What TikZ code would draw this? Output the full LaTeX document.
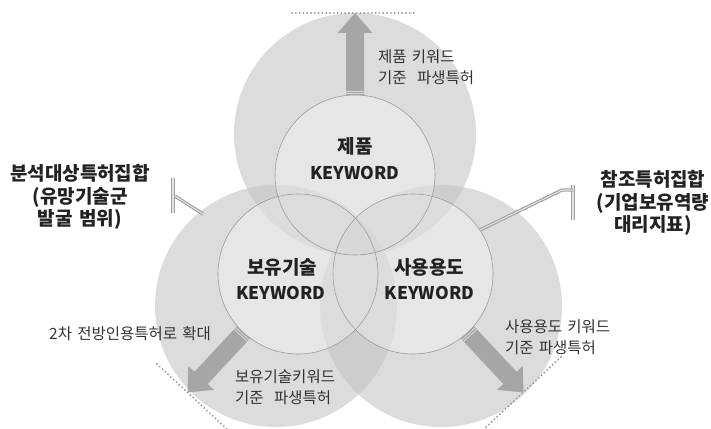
\documentclass[tikz,border=0pt]{standalone}
\usepackage{fontspec}
\setmainfont{Noto Sans CJK KR}[WordSpace=1.5]
\definecolor{bigfill}{gray}{0.77}
\definecolor{arrowc}{HTML}{A6A6A6}
\definecolor{stripec}{HTML}{D8D8D8}
\definecolor{txt}{HTML}{222222}
\definecolor{txtb}{HTML}{333333}
\definecolor{ringc}{HTML}{9C9C9C}
\definecolor{dotc}{HTML}{999999}
\begin{document}
\begin{tikzpicture}[x=1pt,y=-1pt,
  bigc/.style={fill=bigfill, fill opacity=0.6},
  ring/.style={circle, inner sep=0pt, minimum size=160pt, draw=ringc, line width=0.6pt},
  lbl/.style={inner sep=0pt, text=txt, font=\bfseries\fontsize{19}{22}\selectfont},
  kw/.style={inner sep=0pt, text=txt, font=\bfseries\fontsize{17.5}{21}\selectfont},
  cal/.style={inner sep=0pt, text=txt, align=center, font=\bfseries\fontsize{19}{22.5}\selectfont},
  small/.style={inner sep=0pt, text=txtb, align=left, anchor=west, font=\fontsize{15.5}{20.5}\selectfont},
  calline/.style={draw=gray!75, line width=1.1pt, double=gray!22, double distance=1.1pt},
  dotline/.style={draw=dotc, line width=2.1pt, line cap=round, dash pattern=on 0pt off 3.8pt},
  blockarrow/.pic={
    \fill[arrowc] (0,-9) -- (62,-9) -- (62,-17.5) -- (82,0) -- (62,17.5) -- (62,9) -- (0,9) -- cycle;
    \draw[stripec, line width=0.8pt] (1.7,-9) -- (1.7,9);
    \draw[stripec, line width=0.8pt] (3.9,-9) -- (3.9,9);
  }]
\useasboundingbox (0,0) rectangle (711,428);
% big circles
\fill[bigc] (355,134) circle[radius=121];
\fill[bigc] (276,306) circle[radius=121];
\fill[bigc] (441,306) circle[radius=121];
% small circles (light fill as one group)
\begin{scope}[transparency group, opacity=0.3]
  \fill[white] (355,175) circle[radius=80];
  \fill[white] (298,274) circle[radius=80];
  \fill[white] (413,274) circle[radius=80];
\end{scope}
\node[ring] (ST) at (355,175) {};
\node[ring] (SL) at (298,274) {};
\node[ring] (SR) at (413,274) {};
% dotted limit lines
\coordinate (d1a) at (292,13);  \coordinate (d1b) at (415,13);
\coordinate (d2a) at (157,364); \coordinate (d2b) at (230,432);
\coordinate (d3a) at (561,357); \coordinate (d3b) at (484,429);
\draw[dotline] (d1a) -- (d1b);
\draw[dotline] (d2a) -- (d2b);
\draw[dotline] (d3a) -- (d3b);
% block arrows
\pic[rotate=90] at (355,95) {blockarrow};
\pic[rotate=-133] at (243.4,332.5) {blockarrow};
\pic[rotate=-47] at (467.6,332.5) {blockarrow};
% main labels
\node[lbl] (t1) at (355,146) {제품};
\node[kw]  (t2) at (355,173) {KEYWORD};
\node[lbl] (l1) at (282,267) {보유기술};
\node[kw]  (l2) at (281,293) {KEYWORD};
\node[lbl] (r1) at (429,267) {사용용도};
\node[kw]  (r2) at (429.5,293) {KEYWORD};
% small labels
\node[small] (s1) at (378,67) {제품 키워드\\기준\ \ 파생특허};
\node[small] (s2) at (235,387) {보유기술키워드\\기준\ \ 파생특허};
\node[small] (s3) at (505,337) {사용용도 키워드\\기준 파생특허};
\node[small] (s4) at (49,334) {2차 전방인용특허로 확대};
% callouts
\node[cal] (cl) at (80,197) {분석대상특허집합\\(유망기술군\\발굴 범위)};
\node[cal] (cr) at (653,203) {참조특허집합\\(기업보유역량\\대리지표)};
\coordinate (lb1) at (173,178); \coordinate (lb2) at (173,213);
\coordinate (lj) at (175,196);  \coordinate (le) at (203,214);
\draw[calline] (lb1) -- (lb2);
\draw[calline] (lj) -- (le);
\coordinate (rb1) at (573,185); \coordinate (rb2) at (573,220);
\coordinate (rk) at (562,190);  \coordinate (rj) at (573,190);
\coordinate (re) at (480,230);
\draw[calline] (rb1) -- (rb2);
\draw[calline] (re) -- (rk) -- (rj);
\end{tikzpicture}
\end{document}
